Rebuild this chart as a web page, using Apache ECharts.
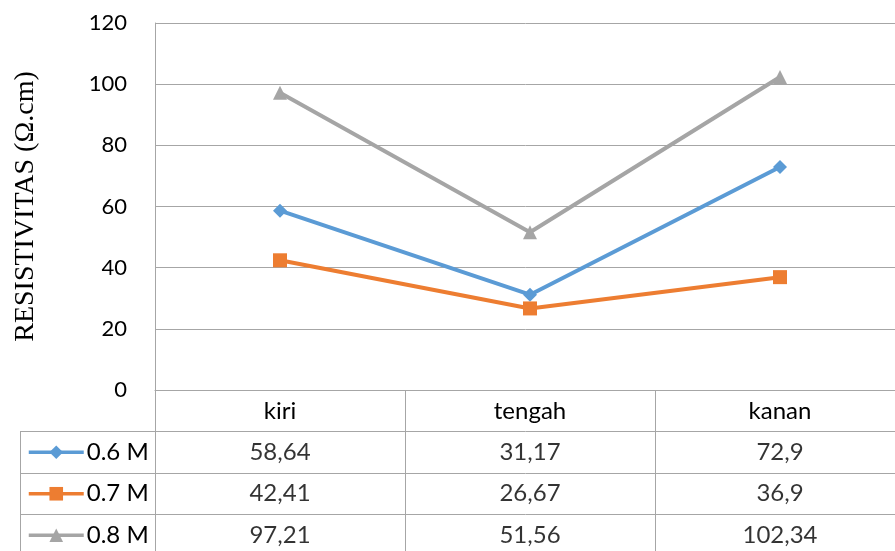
<!DOCTYPE html>
<html>
<head>
<meta charset="utf-8">
<script src="https://cdn.jsdelivr.net/npm/echarts@6/dist/echarts.min.js"></script>
<style>
  html, body { margin: 0; padding: 0; background: #fff; }
  #chart { width: 895px; height: 551px; }
</style>
</head>
<body>
<div id="chart"></div>
<script>
// Resistivity per position (kiri / tengah / kanan) for three concentrations
const categories = ['kiri', 'tengah', 'kanan'];
const seriesNames = ['0.6 M', '0.7 M', '0.8 M'];
const values06 = [58.64, 31.17, 72.9];
const values07 = [42.41, 26.67, 36.9];
const values08 = [97.21, 51.56, 102.34];
const yTicks = [0, 20, 40, 60, 80, 100, 120];
const axisTitle = 'RESISTIVITAS (Ω.cm)';

const allValues = [values06, values07, values08];
const colors = ['#5B9BD5', '#ED7D31', '#A5A5A5'];
const symbols = ['diamond', 'rect', 'triangle'];
const lineGray = '#A6A6A6';
const font = 'Lato, "Open Sans", sans-serif';
const tickSize = 22;
const tableSize = 24;
const fmt = v => String(v).replace('.', ',');

// layout of plot and data table
const plotLeft = 155, plotTop = 23, plotBottom = 390, plotWidth = 750;
const rowH = 41.5;
const keyLeft = 20;

const chart = echarts.init(document.getElementById('chart'), null, { renderer: 'canvas' });

const lineSeries = seriesNames.map((name, i) => ({
  type: 'line',
  name: name,
  xAxisIndex: 0,
  yAxisIndex: 0,
  data: allValues[i],
  symbol: symbols[i],
  symbolSize: 14,
  showAllSymbol: true,
  lineStyle: { width: 4, color: colors[i] },
  itemStyle: { color: colors[i] },
  z: 3 + i,
  silent: true
}));

// value cells of the data table
const tableSeries = seriesNames.map((name, i) => ({
  type: 'scatter',
  name: 'cell ' + name,
  xAxisIndex: 1,
  yAxisIndex: 1,
  data: allValues[i].map((v, j) => [categories[j], name, v]),
  symbolSize: 1,
  itemStyle: { color: 'transparent' },
  label: {
    show: true,
    position: 'inside',
    formatter: p => fmt(p.value[2]),
    fontFamily: font,
    fontSize: tableSize,
    color: '#000'
  },
  silent: true
}));

// legend keys inside the table's first column
const legends = seriesNames.map((name, i) => ({
  data: [name],
  orient: 'horizontal',
  left: 27,
  top: plotBottom + rowH * (i + 1) + rowH / 2 - 12,
  padding: 0,
  itemWidth: 55,
  itemHeight: 17,
  itemGap: 0,
  selectedMode: false,
  lineStyle: { width: 3.5 },
  textStyle: { fontFamily: font, fontSize: tableSize, color: '#000', padding: [0, 0, 0, -2] }
}));

chart.setOption({
  animation: false,
  backgroundColor: '#fff',
  legend: legends,
  grid: [
    { left: plotLeft, top: plotTop, width: plotWidth, height: plotBottom - plotTop, outerBoundsMode: 'none' },
    { left: plotLeft, top: plotBottom, width: plotWidth, height: rowH * 4, outerBoundsMode: 'none' },
    { left: keyLeft, top: plotBottom + rowH, width: plotLeft - keyLeft, height: rowH * 3, outerBoundsMode: 'none' }
  ],
  xAxis: [
    {
      gridIndex: 0,
      type: 'category',
      data: categories,
      boundaryGap: true,
      axisLine: { show: true, lineStyle: { color: lineGray, width: 1 } },
      axisTick: { show: false },
      axisLabel: { fontFamily: font, fontSize: tableSize, color: '#000', margin: 9 },
      splitLine: { show: false }
    },
    {
      gridIndex: 1,
      type: 'category',
      data: categories,
      boundaryGap: true,
      axisLine: { show: false },
      axisTick: { show: false },
      axisLabel: { show: false },
      splitLine: { show: true, lineStyle: { color: lineGray, width: 1 } }
    },
    {
      gridIndex: 2,
      type: 'category',
      data: [''],
      boundaryGap: true,
      axisLine: { show: false },
      axisTick: { show: false },
      axisLabel: { show: false },
      splitLine: { show: true, lineStyle: { color: lineGray, width: 1 } }
    }
  ],
  yAxis: [
    {
      gridIndex: 0,
      type: 'value',
      min: yTicks[0],
      max: yTicks[yTicks.length - 1],
      interval: yTicks[1] - yTicks[0],
      axisLine: { show: true, lineStyle: { color: lineGray, width: 1 } },
      axisTick: { show: false },
      axisLabel: { fontFamily: font, fontSize: tickSize, color: '#000', margin: 28 },
      splitLine: { show: true, lineStyle: { color: lineGray, width: 1 } },
      name: axisTitle,
      nameLocation: 'middle',
      nameRotate: 90,
      nameGap: 115,
      nameTextStyle: { fontFamily: '"Liberation Serif", "Times New Roman", serif', fontSize: 28, color: '#000' }
    },
    {
      gridIndex: 1,
      type: 'category',
      data: [''].concat(seriesNames),
      inverse: true,
      boundaryGap: true,
      axisLine: { show: true, lineStyle: { color: lineGray, width: 1 } },
      axisTick: { show: false },
      axisLabel: { show: false },
      splitLine: { show: true, lineStyle: { color: lineGray, width: 1 } }
    },
    {
      gridIndex: 2,
      type: 'category',
      data: seriesNames,
      inverse: true,
      boundaryGap: true,
      axisLine: { show: false },
      axisTick: { show: false },
      axisLabel: { show: false },
      splitLine: { show: true, lineStyle: { color: lineGray, width: 1 } }
    }
  ],
  series: lineSeries.concat(tableSeries)
});
</script>
</body>
</html>
